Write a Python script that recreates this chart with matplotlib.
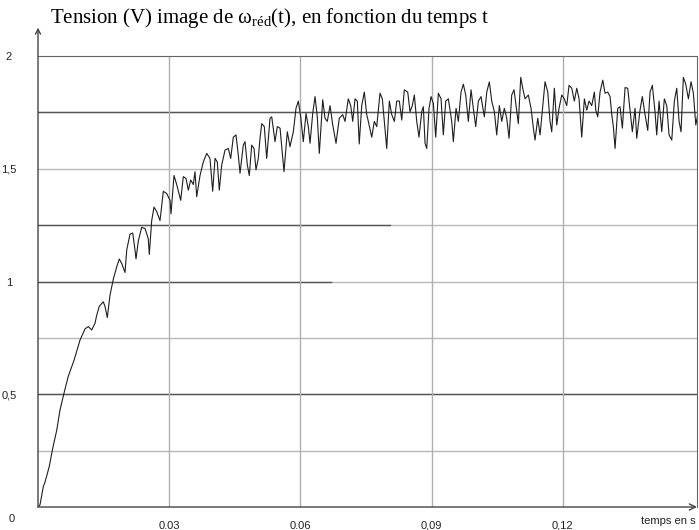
import matplotlib.pyplot as plt

# temps en ms / tension en V
t_ms = [0, 0.23, 0.46, 1.21, 1.60, 2.58, 3.36, 4.28, 5.03, 6.01, 6.93, 8.23, 9.60,
        10.75, 11.50, 12.28, 13.04, 13.42, 14.02, 14.93, 15.32, 15.85, 16.47, 17.22,
        18.00, 18.59, 19.14, 19.90, 20.29, 21.04, 21.66, 22.18, 22.41, 22.94, 23.71,
        24.47, 25.22, 25.45, 26.00, 26.53, 27.15, 27.90, 28.66, 29.43, 30.19, 30.42,
        31.10, 31.72, 32.63, 33.23, 33.85, 34.37, 34.92, 35.52, 35.90, 36.29, 37.05,
        37.80, 38.58, 39.33, 39.95, 40.48, 41.00, 41.46, 42.01, 42.77, 43.52, 44.07,
        44.66, 45.28, 45.81, 46.20, 46.95, 47.34, 47.87, 48.32, 48.87, 49.40, 49.85,
        50.38, 50.77, 51.16, 51.75, 52.30, 53.06, 53.45, 54.20, 54.73, 55.35, 56.26,
        57.01, 57.63, 58.39, 59.00, 59.53, 60.08, 60.67, 61.29, 61.82, 62.21, 62.82,
        63.35, 63.87, 64.33, 65.11, 65.63, 66.16, 66.78, 67.40, 68.15, 68.90, 69.68,
        70.21, 70.96, 71.51, 71.97, 72.50, 73.02, 73.46, 74.03, 74.62, 75.17, 75.54,
        76.32, 76.91, 77.46, 78.21, 78.74, 79.20, 79.75, 80.34, 80.89, 81.49, 82.03,
        82.63, 83.18, 83.77, 84.55, 85.08, 85.60, 86.06, 86.61, 87.13, 87.75, 88.12,
        88.51, 88.90, 89.42, 89.88, 90.41, 90.95, 91.55, 92.17, 92.69, 93.24, 93.84,
        94.61, 94.98, 95.60, 96.12, 96.74, 97.27, 97.81, 98.41, 99.03, 99.55, 100.10,
        100.70, 101.31, 102.07, 102.62, 103.21, 103.76, 104.36, 104.90, 105.50, 106.05,
        106.64, 107.19, 107.72, 108.33, 108.86, 109.32, 109.84, 110.39, 110.85, 111.38,
        112.13, 112.75, 113.28, 113.66, 114.28, 114.81, 115.33, 115.95, 116.57, 117.09,
        117.48, 118.08, 118.63, 119.15, 119.77, 120.36, 120.91, 121.44, 122.06, 122.65,
        123.20, 123.73, 124.34, 124.94, 125.49, 126.01, 126.63, 127.23, 127.55, 128.00,
        128.53, 129.15, 129.67, 130.29, 130.82, 131.21, 131.57, 131.96, 132.58, 133.10,
        133.63, 134.25, 134.86, 135.39, 135.91, 136.53, 136.92, 137.67, 138.20, 138.82,
        139.44, 139.96, 140.49, 141.10, 141.49, 142.02, 142.64, 143.23, 143.78, 144.31,
        144.93, 145.52, 146.07, 146.60, 147.05, 147.58, 148.13, 148.73, 149.34, 149.87,
        150.42, 150.87]
tension = [0, 0.005, 0.01, 0.09, 0.11, 0.18, 0.26, 0.34, 0.43, 0.51, 0.58, 0.65, 0.74,
           0.79, 0.80, 0.785, 0.815, 0.85, 0.89, 0.91, 0.89, 0.84, 0.94, 1.01,
           1.065, 1.10, 1.08, 1.04, 1.14, 1.21, 1.215, 1.14, 1.10, 1.18, 1.24,
           1.235, 1.19, 1.12, 1.27, 1.33, 1.31, 1.27, 1.40, 1.39, 1.36, 1.30,
           1.47, 1.43, 1.36, 1.465, 1.457, 1.405, 1.45, 1.43, 1.487, 1.376, 1.47,
           1.53, 1.568, 1.546, 1.40, 1.546, 1.53, 1.405, 1.517, 1.583, 1.59, 1.546,
           1.64, 1.65, 1.56, 1.48, 1.605, 1.62, 1.517, 1.47, 1.605, 1.59, 1.495,
           1.546, 1.635, 1.70, 1.687, 1.546, 1.724, 1.73, 1.62, 1.687, 1.68, 1.487,
           1.664, 1.598, 1.664, 1.768, 1.80, 1.73, 1.62, 1.745, 1.687, 1.613, 1.745,
           1.82, 1.73, 1.568, 1.806, 1.724, 1.71, 1.78, 1.694, 1.613, 1.724, 1.74,
           1.71, 1.81, 1.78, 1.71, 1.81, 1.80, 1.61, 1.78, 1.84, 1.74, 1.71,
           1.64, 1.71, 1.687, 1.835, 1.81, 1.71, 1.59, 1.80, 1.74, 1.71, 1.80,
           1.80, 1.716, 1.85, 1.84, 1.753, 1.78, 1.827, 1.71, 1.64, 1.753, 1.775,
           1.613, 1.59, 1.768, 1.82, 1.79, 1.64, 1.835, 1.81, 1.65, 1.80, 1.81,
           1.71, 1.62, 1.768, 1.71, 1.84, 1.875, 1.827, 1.71, 1.85, 1.768, 1.687,
           1.80, 1.82, 1.73, 1.84, 1.885, 1.80, 1.753, 1.65, 1.78, 1.71,
           1.768, 1.724, 1.635, 1.827, 1.85, 1.78, 1.70, 1.905, 1.857, 1.81,
           1.827, 1.768, 1.68, 1.627, 1.724, 1.65, 1.76, 1.886, 1.84, 1.71,
           1.664, 1.857, 1.694, 1.768, 1.827, 1.81, 1.78, 1.87, 1.857, 1.80,
           1.857, 1.81, 1.64, 1.81, 1.76, 1.80, 1.78, 1.84, 1.76, 1.73,
           1.84, 1.893, 1.835, 1.84, 1.82, 1.74, 1.687, 1.59, 1.768, 1.775,
           1.68, 1.86, 1.857, 1.76, 1.664, 1.768, 1.635, 1.76, 1.82, 1.74,
           1.67, 1.84, 1.87, 1.753, 1.65, 1.80, 1.664, 1.81, 1.78, 1.65,
           1.627, 1.80, 1.857, 1.71, 1.664, 1.905, 1.875, 1.81, 1.886, 1.835,
           1.694, 1.74]

x_ticks = [0.03, 0.06, 0.09, 0.12]
x_labels = ['0.03', '0.06', '0,09', '0,12']
y_ticks = [0.5, 1, 1.5, 2]
y_labels = ['0,5', '1', '1,5', '2']

plt.rcParams['font.family'] = 'Liberation Sans'
plt.rcParams['mathtext.fontset'] = 'custom'
plt.rcParams['mathtext.rm'] = 'Liberation Serif'
plt.rcParams['mathtext.it'] = 'Liberation Serif:italic'

fig = plt.figure(figsize=(6.99, 5.30), dpi=100)
ax = fig.add_axes([38 / 699, 23 / 530, 659 / 699, 451 / 530])

t = [v / 1000 for v in t_ms]
tmax = 0.1507
ax.set_xlim(0, tmax)
ax.set_ylim(0, 2)

# quadrillage : clair tous les 0,25 V, certaines lignes plus foncées
for y in [0.25, 0.5, 0.75, 1, 1.25, 1.5, 1.75]:
    ax.axhline(y, color='#b8b8b8', lw=1, zorder=1)
for y, x_end in [(0.5, 1), (1, 0.067 / tmax), (1.25, 0.0805 / tmax), (1.75, 1)]:
    ax.axhline(y, xmax=x_end, color='#555555', lw=1, zorder=1)
for x in x_ticks:
    ax.axvline(x, color='#b0b0b0', lw=1, zorder=1)

ax.plot(t, tension, color='#1e1e1e', lw=0.8, zorder=3, clip_on=True)

for side in ['top', 'right']:
    ax.spines[side].set_color('#666666')
ax.spines['left'].set_visible(False)
ax.spines['bottom'].set_visible(False)

ax.annotate('', xy=(0, 1.063), xytext=(0, 0), xycoords='axes fraction',
            arrowprops=dict(arrowstyle='->', color='#444444', lw=1,
                            mutation_scale=9, shrinkA=0, shrinkB=0))
ax.annotate('', xy=(1.0, 0), xytext=(0, 0), xycoords='axes fraction',
            arrowprops=dict(arrowstyle='->', color='#444444', lw=1,
                            mutation_scale=11, shrinkA=0, shrinkB=0))

ax.set_xticks(x_ticks)
ax.set_xticklabels(x_labels)
ax.set_yticks(y_ticks)
ax.set_yticklabels(y_labels, ha='center')
ax.tick_params(axis='both', length=0, labelsize=8, colors='#222222')
ax.tick_params(axis='x', pad=10)
ax.tick_params(axis='y', pad=21)

fig.text(12 / 699, 1 - 519 / 530, '0', fontsize=8, ha='center', va='center', color='#222222')
fig.text(668 / 699, 1 - 521 / 530, 'temps en s', fontsize=8, ha='center', va='center', color='#222222')
fig.text(50 / 699, 1 - 18 / 530,
         r'Tension (V) image de $\mathrm{\omega_{réd}}$(t), en fonction du temps t',
         family='Liberation Serif', fontsize=15, ha='left', va='center')

fig.savefig('out.png', dpi=100)
